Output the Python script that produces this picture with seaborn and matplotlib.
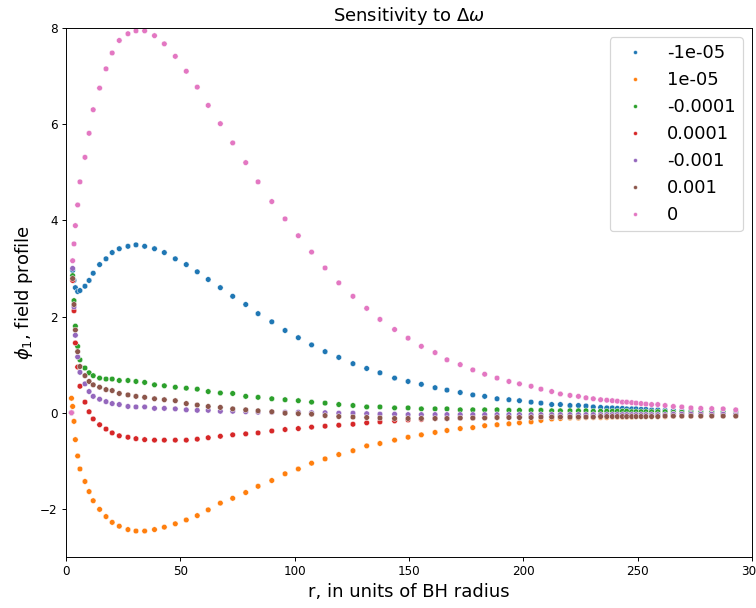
import numpy as np
import pandas as pd
import matplotlib
matplotlib.use("Agg")
import matplotlib.pyplot as plt
import seaborn as sns

# radial grid (units of BH radius)
r = [2.4, 2.9, 3.5, 4.1, 5.1, 6.1, 8.3, 10.1, 11.9, 14.7,
     17.5, 20.2, 23.3, 27.1, 30.6, 34.4, 38.7, 43.0, 47.8, 52.6,
     57.4, 62.2, 67.5, 72.9, 78.6, 84.0, 90.0, 95.8, 101.6, 107.4,
     113.3, 119.3, 125.5, 131.5, 137.3, 143.7, 149.6, 155.4, 161.4, 166.6,
     172.4, 177.9, 183.1, 188.5, 193.7, 198.3, 203.4, 207.7, 212.4, 216.2,
     220.4, 224.1, 227.4, 230.6, 233.8, 236.5, 238.9, 241.1, 243.3, 245.2,
     247.4, 249.3, 251.5, 253.6, 256.1, 258.8, 262.0, 265.6, 269.3, 273.3,
     277.6, 282.4, 287.4, 292.9]

labels = ["-1e-05", "1e-05", "-0.0001", "0.0001", "-0.001", "0.001", "0"]

phi_m1e5 = [0.0, 2.96, 2.75, 2.60, 2.52, 2.54, 2.63, 2.75, 2.90, 3.08,
            3.20, 3.33, 3.41, 3.46, 3.49, 3.46, 3.41, 3.33, 3.20, 3.08,
            2.93, 2.77, 2.60, 2.42, 2.25, 2.06, 1.89, 1.71, 1.56, 1.41,
            1.27, 1.15, 1.02, 0.92, 0.83, 0.72, 0.65, 0.59, 0.52, 0.47,
            0.42, 0.37, 0.34, 0.29, 0.27, 0.25, 0.22, 0.20, 0.17, 0.17,
            0.15, 0.15, 0.14, 0.12, 0.11, 0.10, 0.10, 0.09, 0.09, 0.08,
            0.08, 0.08, 0.07, 0.07, 0.06, 0.06, 0.05, 0.05, 0.04, 0.04,
            0.03, 0.03, 0.02, 0.02]

phi_p1e5 = [0.30, 0.13, -0.18, -0.56, -0.90, -1.17, -1.43, -1.64, -1.83, -2.01,
            -2.16, -2.28, -2.36, -2.43, -2.46, -2.46, -2.43, -2.38, -2.31, -2.23,
            -2.14, -2.02, -1.88, -1.78, -1.66, -1.53, -1.41, -1.27, -1.17, -1.05,
            -0.96, -0.87, -0.79, -0.69, -0.64, -0.57, -0.51, -0.46, -0.41, -0.37,
            -0.33, -0.31, -0.27, -0.25, -0.23, -0.21, -0.19, -0.16, -0.13, -0.12,
            -0.11, -0.11, -0.10, -0.10, -0.10, -0.10, -0.09, -0.09, -0.09, -0.09,
            -0.09, -0.08, -0.08, -0.08, -0.08, -0.08, -0.08, -0.07, -0.07, -0.07,
            -0.07, -0.06, -0.06, -0.06]

phi_m1e4 = [0.0, 2.85, 2.33, 1.80, 1.38, 1.10, 0.93, 0.83, 0.77, 0.72,
            0.70, 0.70, 0.67, 0.67, 0.65, 0.63, 0.58, 0.56, 0.53, 0.51,
            0.49, 0.44, 0.41, 0.40, 0.34, 0.32, 0.29, 0.27, 0.25, 0.22,
            0.20, 0.17, 0.15, 0.12, 0.12, 0.10, 0.10, 0.08, 0.08, 0.08,
            0.06, 0.06, 0.06, 0.06, 0.05, 0.05, 0.05, 0.05, 0.04, 0.04,
            0.04, 0.04, 0.04, 0.03, 0.03, 0.03, 0.03, 0.03, 0.03, 0.03,
            0.02, 0.02, 0.02, 0.02, 0.02, 0.02, 0.02, 0.01, 0.01, 0.01,
            0.01, 0.01, 0.01, 0.01]

phi_p1e4 = [0.0, 2.75, 2.12, 1.45, 0.95, 0.55, 0.22, 0.02, -0.13, -0.25,
            -0.34, -0.42, -0.48, -0.51, -0.54, -0.56, -0.57, -0.57, -0.57, -0.57,
            -0.55, -0.52, -0.49, -0.46, -0.44, -0.42, -0.38, -0.35, -0.33, -0.30,
            -0.28, -0.26, -0.24, -0.21, -0.19, -0.17, -0.15, -0.14, -0.12, -0.12,
            -0.11, -0.11, -0.10, -0.10, -0.09, -0.09, -0.08, -0.08, -0.08, -0.07,
            -0.07, -0.07, -0.07, -0.06, -0.06, -0.06, -0.06, -0.06, -0.06, -0.05,
            -0.05, -0.05, -0.05, -0.05, -0.05, -0.05, -0.05, -0.04, -0.04, -0.04,
            -0.04, -0.04, -0.04, -0.04]

phi_m1e3 = [0.0, 3.00, 2.20, 1.61, 1.16, 0.84, 0.60, 0.44, 0.34, 0.28,
            0.23, 0.19, 0.17, 0.13, 0.12, 0.12, 0.09, 0.09, 0.08, 0.06,
            0.05, 0.05, 0.03, 0.03, 0.02, 0.01, 0.01, 0.01, 0.01, 0.00,
            0.00, -0.01, -0.01, -0.02, -0.03, -0.03, -0.04, -0.04, -0.04, -0.04,
            -0.04, -0.04, -0.04, -0.04, -0.04, -0.04, -0.04, -0.04, -0.04, -0.04,
            -0.04, -0.04, -0.04, -0.04, -0.04, -0.04, -0.04, -0.04, -0.04, -0.04,
            -0.04, -0.04, -0.04, -0.04, -0.04, -0.04, -0.04, -0.03, -0.03, -0.03,
            -0.03, -0.03, -0.03, -0.03]

phi_p1e3 = [0.0, 2.79, 2.25, 1.72, 1.27, 0.96, 0.77, 0.65, 0.58, 0.53,
            0.48, 0.46, 0.40, 0.37, 0.34, 0.32, 0.29, 0.27, 0.25, 0.19,
            0.16, 0.13, 0.11, 0.08, 0.06, 0.04, 0.02, -0.01, -0.02, -0.03,
            -0.06, -0.08, -0.09, -0.10, -0.11, -0.12, -0.12, -0.12, -0.12, -0.12,
            -0.11, -0.11, -0.11, -0.10, -0.10, -0.10, -0.10, -0.09, -0.09, -0.09,
            -0.09, -0.09, -0.09, -0.09, -0.08, -0.08, -0.08, -0.08, -0.08, -0.08,
            -0.08, -0.08, -0.08, -0.08, -0.08, -0.08, -0.07, -0.07, -0.07, -0.07,
            -0.07, -0.07, -0.07, -0.07]

phi_zero = [0.0, 3.16, 3.51, 3.89, 4.32, 4.80, 5.31, 5.81, 6.30, 6.75,
            7.15, 7.48, 7.74, 7.88, 7.94, 7.94, 7.84, 7.67, 7.41, 7.10,
            6.77, 6.39, 6.01, 5.61, 5.20, 4.80, 4.39, 4.03, 3.68, 3.34,
            3.01, 2.70, 2.42, 2.17, 1.94, 1.73, 1.55, 1.38, 1.25, 1.10,
            1.00, 0.89, 0.80, 0.72, 0.65, 0.60, 0.55, 0.49, 0.44, 0.39,
            0.36, 0.34, 0.31, 0.29, 0.27, 0.26, 0.25, 0.24, 0.22, 0.22,
            0.21, 0.20, 0.19, 0.18, 0.17, 0.17, 0.15, 0.13, 0.12, 0.10,
            0.09, 0.085, 0.08, 0.06]

series = [phi_m1e5, phi_p1e5, phi_m1e4, phi_p1e4, phi_m1e3, phi_p1e3, phi_zero]

frames = []
for lab, vals in zip(labels, series):
    frames.append(pd.DataFrame({"r": r, "phi": vals, "dw": lab}))
df = pd.concat(frames, ignore_index=True)

DPI = 86.4
fig = plt.figure(figsize=(756 / DPI, 608 / DPI), dpi=DPI)
ax = fig.add_axes([0.0873, 0.0839, 0.9074, 0.8701])

palette = sns.color_palette("tab10", 7)
sns.scatterplot(data=df, x="r", y="phi", hue="dw", hue_order=labels,
                palette=palette, s=22, ax=ax)

ax.set_xlim(0, 300)
ax.set_ylim(-3, 8)
ax.set_xlabel("r, in units of BH radius", fontsize=15)
ax.set_ylabel(r"$\phi_1$, field profile", fontsize=15)
ax.set_title(r"Sensitivity to $\Delta\omega$", fontsize=15)
ax.tick_params(labelsize=10)
leg = ax.legend(loc="upper right", fontsize=15, markerscale=0.7)

fig.savefig("out.png", dpi=DPI)
